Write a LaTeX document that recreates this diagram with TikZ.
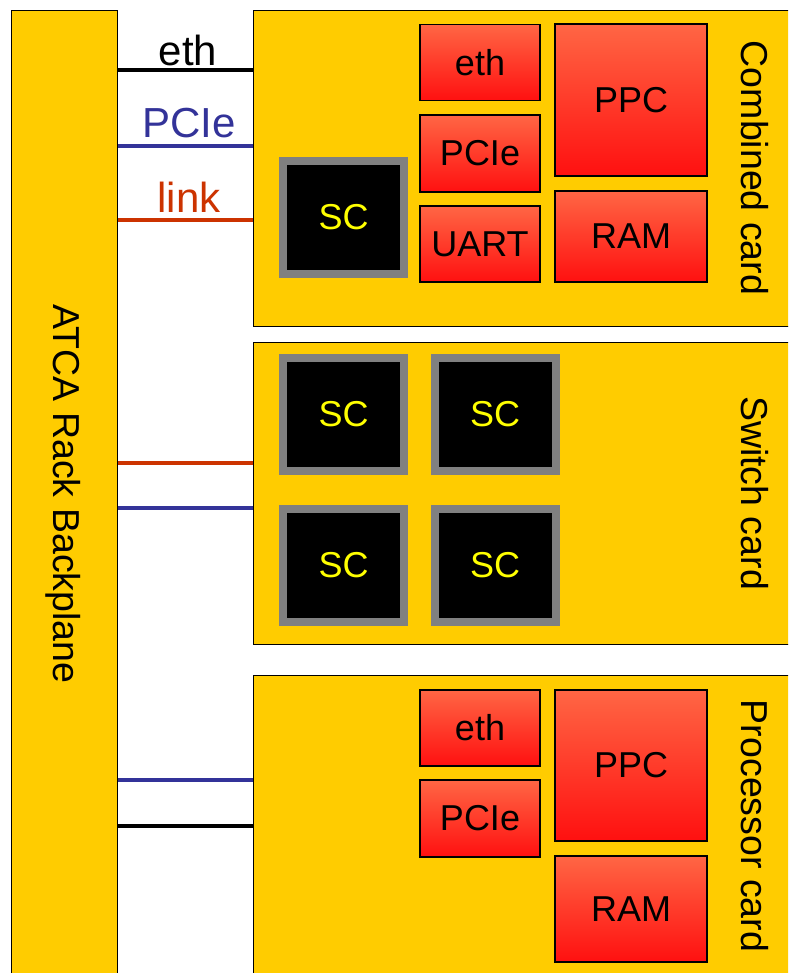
\documentclass[tikz,border=0pt]{standalone}
\usepackage{fontspec}
\setmainfont{Liberation Sans}
\definecolor{cardyellow}{HTML}{FFCC00}
\definecolor{linkred}{HTML}{CC3300}
\definecolor{pcieblue}{HTML}{333399}
\definecolor{redtop}{HTML}{FF6644}
\definecolor{redbot}{HTML}{FF1010}
\definecolor{scgray}{HTML}{808080}
\definecolor{scyellow}{HTML}{FFFF00}
\begin{document}
\begin{tikzpicture}[x=1pt,y=-1pt,
  card/.style={draw=black,line width=1.3pt,fill=cardyellow,inner sep=0pt,anchor=north west},
  redbox/.style={draw=black,line width=1.3pt,top color=redtop,bottom color=redbot,inner sep=0pt,
    font=\fontsize{36}{40}\selectfont},
  scbox/.style={draw=scgray,line width=8pt,fill=black,text=scyellow,inner sep=0pt,
    minimum width=121pt,minimum height=113pt,font=\fontsize{36}{40}\selectfont},
  cardlabel/.style={rotate=-90,font=\fontsize{37.5}{42}\selectfont},
  linelabel/.style={anchor=base,inner sep=0pt,font=\fontsize{42}{46}\selectfont},
  bus/.style={line width=4pt}
]
\clip (0,0) rectangle (788,973);
\fill[white] (0,0) rectangle (788,973);

% backplane
\node[card,minimum width=106pt,minimum height=990pt] (bp) at (11,10) {};
\node[cardlabel] (bplabel) at (63,494) {ATCA Rack Backplane};

% cards
\node[card,minimum width=560pt,minimum height=316pt] (comb) at (253,10) {};
\node[card,minimum width=560pt,minimum height=302pt] (sw) at (253,342) {};
\node[card,minimum width=560pt,minimum height=330pt] (proc) at (253,675) {};

\node[cardlabel] (comblabel) at (755,168) {Combined card};
\node[cardlabel] (swlabel) at (755,493) {Switch card};
\node[cardlabel] (proclabel) at (755,826) {Processor card};

% combined card contents
\node[redbox,minimum width=120pt,minimum height=76pt] (ceth) at (480,62.5) {eth};
\node[redbox,minimum width=120pt,minimum height=77pt] (cpcie) at (480,153.5) {PCIe};
\node[redbox,minimum width=120pt,minimum height=76pt] (cuart) at (480,244) {UART};
\node[redbox,minimum width=152pt,minimum height=152pt] (cppc) at (631,100) {PPC};
\node[redbox,minimum width=152pt,minimum height=91pt] (cram) at (631,236.5) {RAM};
\node[scbox] (csc) at (343.5,217.5) {SC};

% switch card contents
\node[scbox] (sc1) at (343.5,414.5) {SC};
\node[scbox] (sc2) at (495,414.5) {SC};
\node[scbox] (sc3) at (343.5,565.5) {SC};
\node[scbox] (sc4) at (495,565.5) {SC};

% processor card contents
\node[redbox,minimum width=120pt,minimum height=76pt] (peth) at (480,728) {eth};
\node[redbox,minimum width=120pt,minimum height=77pt] (ppcie) at (480,818.5) {PCIe};
\node[redbox,minimum width=152pt,minimum height=151pt] (pppc) at (631,765.5) {PPC};
\node[redbox,minimum width=152pt,minimum height=106pt] (pram) at (631,909) {RAM};

% buses
\draw[bus,black] (bp.east |- 0,70) -- (comb.west |- 0,70);
\draw[bus,pcieblue] (bp.east |- 0,146) -- (comb.west |- 0,146);
\draw[bus,linkred] (bp.east |- 0,220) -- (comb.west |- 0,220);
\draw[bus,linkred] (bp.east |- 0,463) -- (sw.west |- 0,463);
\draw[bus,pcieblue] (bp.east |- 0,508) -- (sw.west |- 0,508);
\draw[bus,pcieblue] (bp.east |- 0,780) -- (proc.west |- 0,780);
\draw[bus,black] (bp.east |- 0,826) -- (proc.west |- 0,826);

\node[linelabel] (ethlabel) at (188,66) {eth};
\node[linelabel,text=pcieblue] (pcielabel) at (189,138) {PCIe};
\node[linelabel,text=linkred] (linklabel) at (189,213) {link};
\end{tikzpicture}
\end{document}
